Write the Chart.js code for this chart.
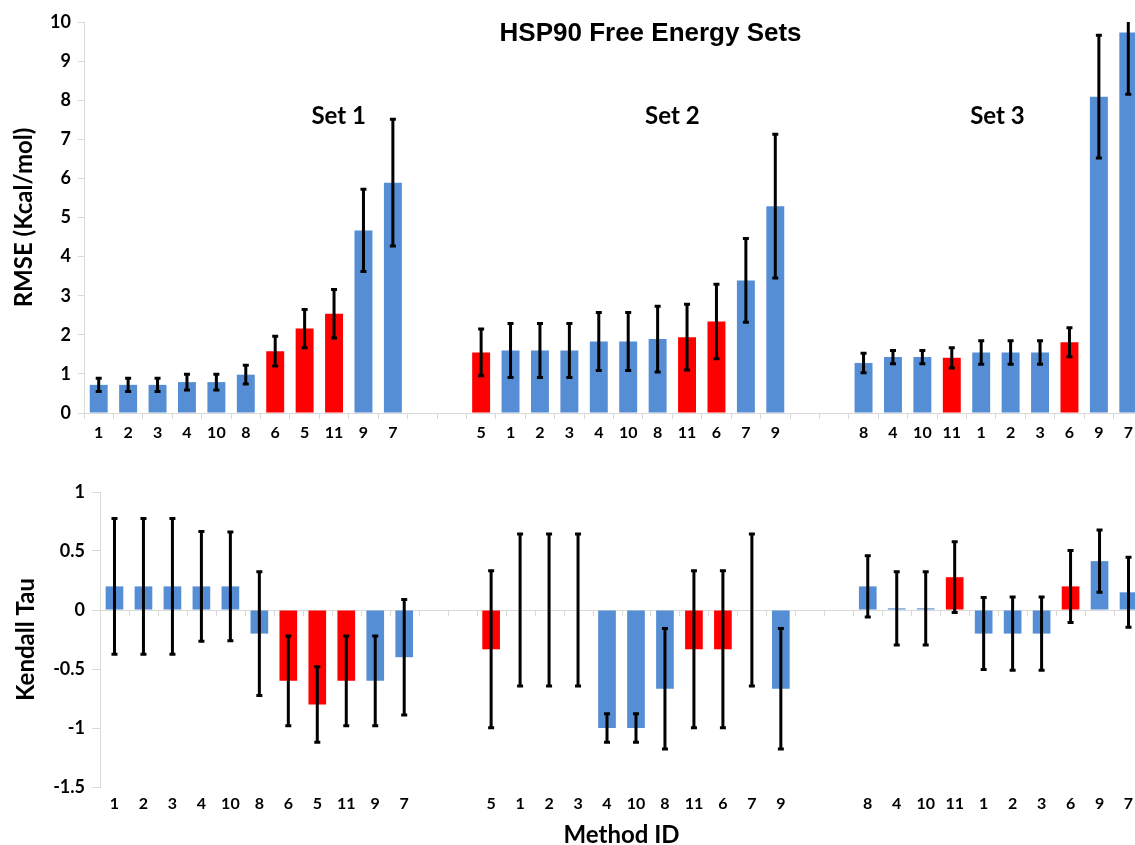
<!DOCTYPE html>
<html>
<head>
<meta charset="utf-8">
<script src="https://cdn.jsdelivr.net/npm/chart.js@4.4.1/dist/chart.umd.min.js"></script>
<style>
  html, body { margin: 0; padding: 0; background: #fff; overflow: hidden; }
  #wrap { position: relative; width: 1135px; height: 845px; overflow: hidden; }
  #rmseChart { position: absolute; left: 0; top: 0; }
  #tauChart { position: absolute; left: 0; top: 450px; }
</style>
</head>
<body>
<div id="wrap">
  <canvas id="rmseChart" width="1143" height="450"></canvas>
  <canvas id="tauChart" width="1143" height="397"></canvas>
</div>
<script>
// method IDs, in the order they are plotted for each set
const set1Ids = ['1', '2', '3', '4', '10', '8', '6', '5', '11', '9', '7'];
const set2Ids = ['5', '1', '2', '3', '4', '10', '8', '11', '6', '7', '9'];
const set3Ids = ['8', '4', '10', '11', '1', '2', '3', '6', '9', '7'];
const redMethods = ['5', '6', '11'];

// RMSE (kcal/mol) and error bar half widths
const rmse1 = [0.72, 0.72, 0.72, 0.79, 0.79, 0.98, 1.58, 2.16, 2.54, 4.67, 5.89];
const rmseErr1 = [0.17, 0.17, 0.17, 0.20, 0.20, 0.24, 0.38, 0.49, 0.62, 1.05, 1.62];
const rmse2 = [1.55, 1.60, 1.60, 1.60, 1.83, 1.83, 1.89, 1.94, 2.34, 3.39, 5.29];
const rmseErr2 = [0.60, 0.69, 0.69, 0.69, 0.74, 0.74, 0.84, 0.84, 0.95, 1.07, 1.84];
const rmse3 = [1.28, 1.43, 1.43, 1.41, 1.55, 1.55, 1.55, 1.81, 8.09, 9.73];
const rmseErr3 = [0.25, 0.17, 0.17, 0.26, 0.30, 0.30, 0.30, 0.37, 1.57, 1.58];

// Kendall tau and error bar half widths
const tau1 = [0.2, 0.2, 0.2, 0.2, 0.2, -0.2, -0.6, -0.8, -0.6, -0.6, -0.4];
const tauErr1 = [0.575, 0.575, 0.575, 0.465, 0.46, 0.525, 0.38, 0.32, 0.38, 0.38, 0.49];
const tau2 = [-0.333, 0, 0, 0, -1.0, -1.0, -0.667, -0.333, -0.333, 0, -0.667];
const tauErr2 = [0.665, 0.645, 0.645, 0.645, 0.12, 0.12, 0.51, 0.665, 0.665, 0.645, 0.51];
const tau3 = [0.2, 0.014, 0.014, 0.278, -0.2, -0.2, -0.2, 0.2, 0.414, 0.15];
const tauErr3 = [0.26, 0.31, 0.31, 0.30, 0.305, 0.31, 0.31, 0.305, 0.264, 0.296];

const rmseTicks = [0, 1, 2, 3, 4, 5, 6, 7, 8, 9, 10];
const tauTicks = [-1.5, -1, -0.5, 0, 0.5, 1];

const BLUE = '#558ED5';
const RED = '#FF0000';
const AXIS_GRAY = '#d9d9d9';
const FONT = 'Lato';

// two empty slots between the sets
const gap = [null, null];
const labels = [...set1Ids, '', '', ...set2Ids, '', '', ...set3Ids];
const rmse = [...rmse1, ...gap, ...rmse2, ...gap, ...rmse3];
const rmseErr = [...rmseErr1, ...gap, ...rmseErr2, ...gap, ...rmseErr3];
const tau = [...tau1, ...gap, ...tau2, ...gap, ...tau3];
const tauErr = [...tauErr1, ...gap, ...tauErr2, ...gap, ...tauErr3];
const barColors = labels.map(id => redMethods.includes(id) ? RED : BLUE);

function errorBarPlugin(errors) {
  return {
    id: 'errorBars',
    afterDatasetsDraw(chart) {
      const { ctx, chartArea } = chart;
      const y = chart.scales.y;
      const values = chart.data.datasets[0].data;
      const meta = chart.getDatasetMeta(0);
      ctx.save();
      ctx.beginPath();
      ctx.rect(chartArea.left, chartArea.top, chartArea.width, chartArea.height);
      ctx.clip();
      ctx.strokeStyle = '#000';
      ctx.lineWidth = 3;
      meta.data.forEach((bar, i) => {
        const v = values[i], e = errors[i];
        if (v == null || e == null) return;
        const hi = y.getPixelForValue(v + e);
        const lo = y.getPixelForValue(v - e);
        ctx.beginPath();
        ctx.moveTo(bar.x, hi); ctx.lineTo(bar.x, lo);
        ctx.moveTo(bar.x - 3, hi); ctx.lineTo(bar.x + 3, hi);
        ctx.moveTo(bar.x - 3, lo); ctx.lineTo(bar.x + 3, lo);
        ctx.stroke();
      });
      ctx.restore();
    }
  };
}

// text notes placed in scale units (x = category index, y = value)
function notesPlugin(notes) {
  return {
    id: 'notes',
    afterDraw(chart) {
      const { ctx } = chart;
      const x = chart.scales.x, y = chart.scales.y;
      notes.forEach(n => {
        ctx.save();
        ctx.font = n.font;
        ctx.fillStyle = '#000';
        ctx.textAlign = 'center';
        ctx.textBaseline = 'middle';
        ctx.fillText(n.text, x.getPixelForValue(n.at), y.getPixelForValue(n.y));
        ctx.restore();
      });
    }
  };
}

// zero line with small category ticks for the tau chart
const zeroAxis = {
  id: 'zeroAxis',
  beforeDatasetsDraw(chart) {
    const { ctx, chartArea } = chart;
    const x = chart.scales.x;
    const y0 = chart.scales.y.getPixelForValue(0);
    ctx.save();
    ctx.strokeStyle = AXIS_GRAY;
    ctx.lineWidth = 1;
    ctx.beginPath();
    ctx.moveTo(chartArea.left, y0 + 0.5);
    ctx.lineTo(chartArea.right, y0 + 0.5);
    for (let i = 0; i <= labels.length; i++) {
      const px = Math.round(x.getPixelForValue(i - 0.5)) + 0.5;
      ctx.moveTo(px, y0);
      ctx.lineTo(px, y0 + 6);
    }
    ctx.stroke();
    ctx.restore();
  }
};

const tickFont = { family: FONT, weight: 'bold', size: 18 };
const catFont = { family: FONT, weight: 'bold', size: 16 };
const titleFont = { family: FONT, weight: 'bold', size: 24 };

new Chart(document.getElementById('rmseChart'), {
  type: 'bar',
  data: {
    labels: labels,
    datasets: [{
      data: rmse,
      backgroundColor: barColors,
      barPercentage: 0.61,
      categoryPercentage: 1.0
    }]
  },
  options: {
    responsive: false,
    animation: false,
    layout: { padding: { top: 22, right: 0, bottom: 0, left: 0 } },
    plugins: { legend: { display: false }, tooltip: { enabled: false } },
    scales: {
      x: {
        grid: { drawOnChartArea: false, tickLength: 6, color: AXIS_GRAY, offset: true },
        border: { color: AXIS_GRAY },
        ticks: { font: catFont, color: '#000', padding: 4, autoSkip: false, maxRotation: 0 },
        afterFit(s) { s.height = 37; }
      },
      y: {
        min: 0,
        max: 10,
        afterBuildTicks(s) { s.ticks = rmseTicks.map(v => ({ value: v })); },
        ticks: { font: tickFont, color: '#000', padding: 7, callback: v => String(v) },
        grid: { drawOnChartArea: false, tickLength: 6, color: AXIS_GRAY },
        border: { color: AXIS_GRAY },
        title: { display: true, text: 'RMSE (Kcal/mol)', font: titleFont, color: '#000', padding: { top: 10, bottom: 0 } },
        afterFit(s) { s.width = 84; }
      }
    }
  },
  plugins: [
    errorBarPlugin(rmseErr),
    notesPlugin([
      { text: 'HSP90 Free Energy Sets', at: 18.76, y: 9.71, font: 'bold 26px "Liberation Sans", Arial, sans-serif' },
      { text: 'Set 1', at: 8.16, y: 7.6, font: 'bold 24px Lato' },
      { text: 'Set 2', at: 19.5, y: 7.6, font: 'bold 24px Lato' },
      { text: 'Set 3', at: 30.55, y: 7.6, font: 'bold 24px Lato' }
    ])
  ]
});

new Chart(document.getElementById('tauChart'), {
  type: 'bar',
  data: {
    labels: labels,
    datasets: [{
      data: tau,
      backgroundColor: barColors,
      barPercentage: 0.61,
      categoryPercentage: 1.0
    }]
  },
  options: {
    responsive: false,
    animation: false,
    layout: { padding: { top: 42, right: 0, bottom: 0, left: 0 } },
    plugins: { legend: { display: false }, tooltip: { enabled: false } },
    scales: {
      x: {
        grid: { display: false, drawTicks: false },
        border: { display: false },
        ticks: { font: catFont, color: '#000', padding: 7, autoSkip: false, maxRotation: 0 },
        title: { display: true, text: 'Method ID', font: { family: FONT, weight: 'bold', size: 24, lineHeight: 1 }, color: '#000', padding: { top: 0, bottom: 0 } },
        afterFit(s) { s.height = 60; }
      },
      y: {
        min: -1.5,
        max: 1,
        afterBuildTicks(s) { s.ticks = tauTicks.map(v => ({ value: v })); },
        ticks: { font: tickFont, color: '#000', padding: 7, callback: v => String(v) },
        grid: { drawOnChartArea: false, tickLength: 8, color: AXIS_GRAY },
        border: { color: AXIS_GRAY },
        title: { display: true, text: 'Kendall Tau', font: titleFont, color: '#000', padding: { top: 12, bottom: 0 } },
        afterFit(s) { s.width = 100; }
      }
    }
  },
  plugins: [zeroAxis, errorBarPlugin(tauErr)]
});
</script>
</body>
</html>
